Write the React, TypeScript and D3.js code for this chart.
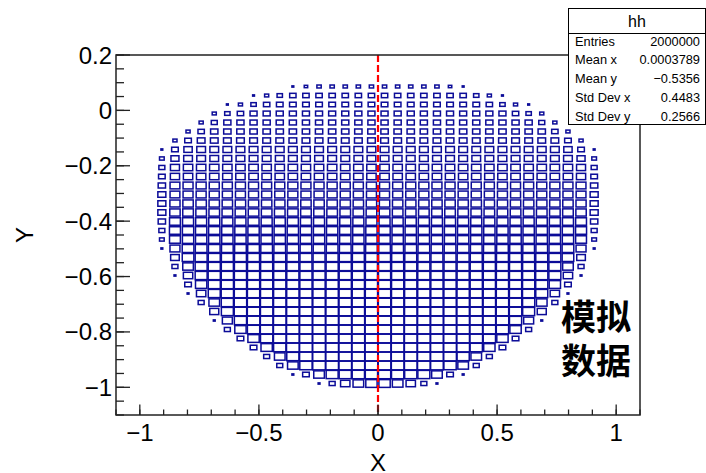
import React from "react";
import * as d3 from "d3";

// histogram "hh": 40 x 40 bins over x [-1.1, 1.1], y [-1.1, 0.2]
const xRange = [-1.1, 1.1];
const yRange = [-1.1, 0.2];
const nBinsX = 40;
const nBinsY = 40;

// y bin index of each drawn row (bottom to top), first x bin in that row, and the bin contents (relative)
const rowBin = [3, 4, 5, 6, 7, 8, 9, 10, 11, 12, 13, 14, 15, 16, 17, 18, 19, 20, 21, 22, 23, 24, 25, 26, 27, 28, 29, 30, 31, 32, 33, 34, 35, 36];
const rowFirstX = [15, 13, 12, 11, 10, 9, 8, 7, 7, 6, 5, 5, 4, 4, 4, 3, 3, 3, 3, 3, 3, 3, 3, 3, 3, 3, 3, 4, 5, 6, 7, 8, 10, 13];
const rowContents = [
  [2, 21, 52, 67, 76, 76, 67, 52, 21, 2],
  [2, 26, 67, 85, 88, 90, 90, 90, 90, 88, 85, 67, 26, 2],
  [21, 67, 90, 95, 95, 95, 95, 95, 95, 95, 95, 95, 95, 90, 67, 21],
  [21, 67, 88, 96, 96, 96, 96, 96, 96, 96, 96, 96, 96, 96, 96, 88, 67, 21],
  [26, 76, 90, 96, 96, 96, 96, 96, 96, 96, 96, 96, 96, 96, 96, 96, 96, 90, 76, 26],
  [26, 76, 90, 95, 95, 95, 95, 95, 95, 95, 95, 95, 95, 95, 95, 95, 95, 95, 95, 90, 76, 26],
  [21, 76, 90, 95, 95, 95, 95, 95, 95, 95, 95, 95, 95, 95, 95, 95, 95, 95, 95, 95, 95, 90, 76, 21],
  [2, 59, 88, 94, 94, 94, 94, 94, 94, 94, 94, 94, 94, 94, 94, 94, 94, 94, 94, 94, 94, 94, 94, 88, 59, 2],
  [48, 85, 92, 92, 92, 92, 92, 92, 92, 92, 92, 92, 92, 92, 92, 92, 92, 92, 92, 92, 92, 92, 92, 92, 85, 48],
  [21, 67, 88, 92, 92, 92, 92, 92, 92, 92, 92, 92, 92, 92, 92, 92, 92, 92, 92, 92, 92, 92, 92, 92, 92, 88, 67, 21],
  [2, 52, 85, 90, 90, 90, 90, 90, 90, 90, 90, 90, 90, 90, 90, 90, 90, 90, 90, 90, 90, 90, 90, 90, 90, 90, 90, 85, 52, 2],
  [26, 76, 87, 89, 89, 89, 89, 89, 89, 89, 89, 89, 89, 89, 89, 89, 89, 89, 89, 89, 89, 89, 89, 89, 89, 89, 89, 87, 76, 26],
  [2, 52, 85, 88, 88, 88, 88, 88, 88, 88, 88, 88, 88, 88, 88, 88, 88, 88, 88, 88, 88, 88, 88, 88, 88, 88, 88, 88, 88, 85, 52, 2],
  [21, 67, 85, 87, 87, 87, 87, 87, 87, 87, 87, 87, 87, 87, 87, 87, 87, 87, 87, 87, 87, 87, 87, 87, 87, 87, 87, 87, 87, 85, 67, 21],
  [44, 80, 85, 85, 85, 85, 85, 85, 85, 85, 85, 85, 85, 85, 85, 85, 85, 85, 85, 85, 85, 85, 85, 85, 85, 85, 85, 85, 85, 85, 80, 44],
  [2, 59, 81, 81, 81, 81, 81, 81, 81, 81, 81, 81, 81, 81, 81, 81, 81, 81, 81, 81, 81, 81, 81, 81, 81, 81, 81, 81, 81, 81, 81, 81, 59, 2],
  [13, 70, 76, 76, 76, 76, 76, 76, 76, 76, 76, 76, 76, 76, 76, 76, 76, 76, 76, 76, 76, 76, 76, 76, 76, 76, 76, 76, 76, 76, 76, 76, 70, 13],
  [21, 72, 76, 76, 76, 76, 76, 76, 76, 76, 76, 76, 76, 76, 76, 76, 76, 76, 76, 76, 76, 76, 76, 76, 76, 76, 76, 76, 76, 76, 76, 76, 72, 21],
  [32, 70, 72, 72, 72, 72, 72, 72, 72, 72, 72, 72, 72, 72, 72, 72, 72, 72, 72, 72, 72, 72, 72, 72, 72, 72, 72, 72, 72, 72, 72, 72, 70, 32],
  [38, 64, 67, 67, 67, 67, 67, 67, 67, 67, 67, 67, 67, 67, 67, 67, 67, 67, 67, 67, 67, 67, 67, 67, 67, 67, 67, 67, 67, 67, 67, 67, 64, 38],
  [38, 61, 64, 64, 64, 64, 64, 64, 64, 64, 64, 64, 64, 64, 64, 64, 64, 64, 64, 64, 64, 64, 64, 64, 64, 64, 64, 64, 64, 64, 64, 64, 61, 38],
  [38, 57, 59, 59, 59, 59, 59, 59, 59, 59, 59, 59, 59, 59, 59, 59, 59, 59, 59, 59, 59, 59, 59, 59, 59, 59, 59, 59, 59, 59, 59, 59, 57, 38],
  [32, 57, 59, 59, 59, 59, 59, 59, 59, 59, 59, 59, 59, 59, 59, 59, 59, 59, 59, 59, 59, 59, 59, 59, 59, 59, 59, 59, 59, 59, 59, 59, 57, 32],
  [26, 50, 52, 52, 52, 52, 52, 52, 52, 52, 52, 52, 52, 52, 52, 52, 52, 52, 52, 52, 52, 52, 52, 52, 52, 52, 52, 52, 52, 52, 52, 52, 50, 26],
  [21, 48, 52, 52, 52, 52, 52, 52, 52, 52, 52, 52, 52, 52, 52, 52, 52, 52, 52, 52, 52, 52, 52, 52, 52, 52, 52, 52, 52, 52, 52, 52, 48, 21],
  [13, 38, 45, 45, 45, 45, 45, 45, 45, 45, 45, 45, 45, 45, 45, 45, 45, 45, 45, 45, 45, 45, 45, 45, 45, 45, 45, 45, 45, 45, 45, 45, 38, 13],
  [2, 26, 41, 45, 45, 45, 45, 45, 45, 45, 45, 45, 45, 45, 45, 45, 45, 45, 45, 45, 45, 45, 45, 45, 45, 45, 45, 45, 45, 45, 45, 41, 26, 2],
  [10, 26, 35, 35, 35, 35, 35, 35, 35, 35, 35, 35, 35, 35, 35, 35, 35, 35, 35, 35, 35, 35, 35, 35, 35, 35, 35, 35, 35, 35, 26, 10],
  [10, 24, 32, 32, 32, 32, 32, 32, 32, 32, 32, 32, 32, 32, 32, 32, 32, 32, 32, 32, 32, 32, 32, 32, 32, 32, 32, 32, 24, 10],
  [10, 21, 30, 30, 30, 30, 30, 30, 30, 30, 30, 30, 30, 30, 30, 30, 30, 30, 30, 30, 30, 30, 30, 30, 30, 30, 21, 10],
  [10, 17, 24, 29, 29, 29, 29, 29, 29, 29, 29, 29, 29, 29, 29, 29, 29, 29, 29, 29, 29, 29, 29, 24, 17, 10],
  [2, 10, 17, 24, 26, 26, 26, 26, 26, 26, 26, 26, 26, 26, 26, 26, 26, 26, 26, 26, 24, 17, 10, 2],
  [2, 10, 17, 24, 24, 24, 24, 24, 24, 24, 24, 24, 24, 24, 24, 24, 24, 17, 10, 2],
  [2, 7, 11, 11, 11, 11, 11, 11, 11, 11, 11, 11, 7, 2],
];

const xTicks = [-1, -0.5, 0, 0.5, 1];
const yTicks = [0.2, 0, -0.2, -0.4, -0.6, -0.8, -1];

const statsLabels = ["Entries", "Mean x", "Mean y", "Std Dev x", "Std Dev y"];
const statsValues = ["2000000", "0.0003789", "\u22120.5356", "0.4483", "0.2566"];

const fmt = (v: number) => d3.format("")(v).replace("-", "\u2212");

export default function App() {
  const W = 706;
  const H = 473;
  const left = 116, right = 640, top = 55, bottom = 415;

  const x = d3.scaleLinear().domain(xRange).range([left, right]);
  const y = d3.scaleLinear().domain(yRange).range([bottom, top]);

  const bw = (xRange[1] - xRange[0]) / nBinsX;
  const bh = (yRange[1] - yRange[0]) / nBinsY;
  const cellW = x(xRange[0] + bw) - x(xRange[0]);
  const cellH = y(yRange[0]) - y(yRange[0] + bh);

  // ROOT "BOX": box area proportional to the bin content
  const zmax = d3.max(rowContents.flat()) as number;
  const size = d3.scaleSqrt().domain([0, zmax]).range([0, 0.97]);

  const boxes: { cx: number; cy: number; s: number }[] = [];
  rowContents.forEach((row, r) => {
    const j = rowBin[r];
    row.forEach((z, k) => {
      const i = rowFirstX[r] + k;
      boxes.push({
        cx: x(xRange[0] + (i + 0.5) * bw),
        cy: y(yRange[0] + (j + 0.5) * bh),
        s: size(z),
      });
    });
  });

  const xMinor = d3.range(-1.1, 1.1001, 0.1);
  const yMinor = d3.range(-1.1, 0.2001, 0.05);

  const font = "'Liberation Sans', Arial, sans-serif";
  const axisColor = "#222";

  // stats box
  const sx = 568.5, sy = 8.5, sw = 137, sh = 116;

  return (
    <svg width={W} height={H} style={{ position: "absolute", left: 0, top: 0, background: "#fff" }}>
      <rect x={0} y={0} width={W} height={H} fill="#fff" />

      <g fill="none" stroke="#0c0c98" strokeWidth={1.5}>
        {boxes.map((b, k) => {
          const w = Math.max(cellW * b.s, 0.8);
          const h = Math.max(cellH * b.s, 0.8);
          return <rect key={k} x={b.cx - w / 2} y={b.cy - h / 2} width={w} height={h} />;
        })}
      </g>

      <line x1={x(0)} x2={x(0)} y1={top} y2={bottom} stroke="#ff0000" strokeWidth={2.2} strokeDasharray="7,3" />

      <rect x={left} y={top} width={right - left} height={bottom - top} fill="none" stroke={axisColor} strokeWidth={1.5} />

      <g stroke={axisColor} strokeWidth={1.3}>
        {xMinor.map((v, k) => (
          <line key={"xm" + k} x1={x(v)} x2={x(v)} y1={bottom} y2={bottom - 5.5} />
        ))}
        {xTicks.map((v) => (
          <line key={"xM" + v} x1={x(v)} x2={x(v)} y1={bottom} y2={bottom - 10.5} />
        ))}
        {yMinor.map((v, k) => (
          <line key={"ym" + k} x1={left} x2={left + 8} y1={y(v)} y2={y(v)} />
        ))}
        {yTicks.map((v) => (
          <line key={"yM" + v} x1={left} x2={left + 14} y1={y(v)} y2={y(v)} />
        ))}
      </g>

      <g fontFamily={font} fontSize={24} fill="#000">
        {xTicks.map((v) => (
          <text key={"xl" + v} x={x(v)} y={432} textAnchor="middle" dominantBaseline="central">
            {fmt(v)}
          </text>
        ))}
        {yTicks.map((v) => (
          <text key={"yl" + v} x={left - 4} y={y(v)} textAnchor="end" dominantBaseline="central">
            {fmt(v)}
          </text>
        ))}
        <text x={(left + right) / 2} y={471} textAnchor="middle">X</text>
        <text
          transform={`translate(24,${(top + bottom) / 2}) rotate(-90)`}
          textAnchor="middle"
          dominantBaseline="central"
        >
          Y
        </text>
      </g>

      <rect x={sx} y={sy} width={sw} height={sh} fill="#fff" stroke="#000" strokeWidth={1} />
      <line x1={sx} x2={sx + sw} y1={33.5} y2={33.5} stroke="#000" strokeWidth={1} />
      <text x={sx + sw / 2} y={21} textAnchor="middle" dominantBaseline="central" fontFamily={font} fontSize={16}>
        hh
      </text>
      <g fontFamily={font} fontSize={12.8} fill="#000">
        {statsLabels.map((l, k) => (
          <g key={l}>
            <text x={575} y={41 + k * 18.8} dominantBaseline="central">{l}</text>
            <text x={700} y={41 + k * 18.8} textAnchor="end" dominantBaseline="central">{statsValues[k]}</text>
          </g>
        ))}
      </g>

      <g fontFamily="'Noto Sans CJK SC', sans-serif" fontSize={35} fontWeight="bold" fill="#000">
        <text x={561} y={330}>模拟</text>
        <text x={561} y={374}>数据</text>
      </g>
    </svg>
  );
}
